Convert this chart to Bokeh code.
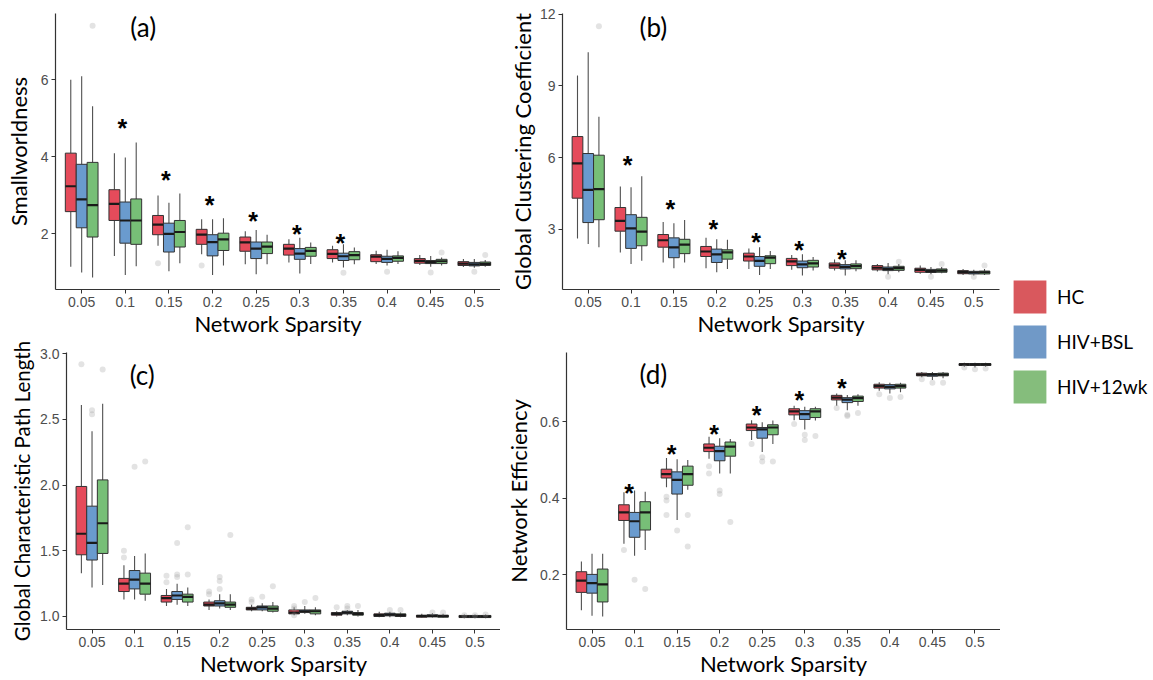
from bokeh.plotting import figure
from bokeh.layouts import row, column
from bokeh.models import (Range1d, FixedTicker, ColumnDataSource, Label,
                          Legend, LegendItem)
from bokeh.embed import file_html
from bokeh.resources import INLINE
from bokeh.core.properties import value

sparsity = ["0.05", "0.1", "0.15", "0.2", "0.25", "0.3", "0.35", "0.4", "0.45", "0.5"]
groups = ["HC", "HIV+BSL", "HIV+12wk"]

# each entry: (lower whisker, Q1, median, Q3, upper whisker) per sparsity level
# (a) Smallworldness
sw_hc = [(1.14, 2.57, 3.23, 4.09, 6.00), (1.42, 2.34, 2.77, 3.14, 4.09), (1.68, 1.97, 2.23, 2.47, 2.99),
         (1.46, 1.72, 1.97, 2.11, 2.37), (1.20, 1.54, 1.77, 1.91, 2.06), (1.25, 1.44, 1.61, 1.72, 1.85),
         (1.25, 1.35, 1.47, 1.58, 1.68), (1.21, 1.27, 1.40, 1.45, 1.55), (1.18, 1.23, 1.29, 1.35, 1.44),
         (1.13, 1.17, 1.22, 1.27, 1.34)]
sw_bsl = [(0.99, 2.15, 2.89, 3.80, 6.09), (0.92, 1.75, 2.34, 2.82, 3.98), (1.02, 1.52, 1.99, 2.27, 2.80),
          (0.92, 1.42, 1.78, 1.97, 2.37), (0.94, 1.35, 1.61, 1.78, 2.09), (0.96, 1.33, 1.48, 1.61, 1.89),
          (1.12, 1.30, 1.41, 1.49, 1.72), (1.17, 1.25, 1.34, 1.41, 1.58), (1.14, 1.22, 1.26, 1.30, 1.42),
          (1.11, 1.16, 1.20, 1.25, 1.34)]
sw_12wk = [(0.86, 1.91, 2.74, 3.85, 5.31), (1.15, 1.72, 2.34, 2.90, 4.37), (1.23, 1.65, 2.04, 2.34, 3.04),
           (1.17, 1.56, 1.85, 2.01, 2.40), (1.20, 1.48, 1.66, 1.78, 1.97), (1.21, 1.41, 1.55, 1.64, 1.77),
           (1.20, 1.32, 1.44, 1.53, 1.64), (1.21, 1.28, 1.37, 1.42, 1.54), (1.17, 1.22, 1.28, 1.33, 1.38),
           (1.14, 1.17, 1.21, 1.26, 1.31)]
sw_outliers = [("0.05", "HIV+12wk", 7.40), ("0.15", "HC", 1.23), ("0.2", "HC", 1.17),
               ("0.35", "HIV+BSL", 0.98), ("0.4", "HIV+BSL", 1.01), ("0.45", "HIV+BSL", 0.99),
               ("0.45", "HIV+12wk", 1.51), ("0.5", "HIV+BSL", 1.01), ("0.5", "HIV+12wk", 1.44)]
sw_sig = ["0.1", "0.15", "0.2", "0.25", "0.3", "0.35"]
sw_sig_y = [4.95, 3.59, 2.95, 2.54, 2.20, 1.97]

# (b) Global Clustering Coefficient
gcc_hc = [(2.61, 4.30, 5.76, 6.88, 9.43), (2.03, 2.92, 3.35, 3.91, 4.79), (1.61, 2.25, 2.54, 2.78, 3.30),
          (1.37, 1.86, 2.07, 2.28, 2.64), (1.34, 1.67, 1.86, 2.00, 2.20), (1.31, 1.48, 1.66, 1.78, 1.92),
          (1.27, 1.37, 1.49, 1.59, 1.73), (1.23, 1.30, 1.39, 1.48, 1.55), (1.14, 1.20, 1.30, 1.37, 1.48),
          (1.09, 1.14, 1.21, 1.27, 1.34)]
gcc_bsl = [(2.38, 3.28, 4.65, 6.17, 10.41), (1.55, 2.20, 3.04, 3.61, 4.76), (1.37, 1.81, 2.24, 2.64, 3.25),
           (1.20, 1.61, 1.95, 2.17, 2.58), (1.09, 1.45, 1.68, 1.86, 2.25), (1.06, 1.39, 1.53, 1.67, 1.95),
           (1.06, 1.34, 1.43, 1.52, 1.70), (1.12, 1.27, 1.34, 1.42, 1.59), (1.12, 1.19, 1.25, 1.32, 1.42),
           (1.06, 1.13, 1.19, 1.24, 1.31)]
gcc_12wk = [(2.25, 3.40, 4.68, 6.10, 7.71), (1.68, 2.31, 2.90, 3.50, 5.22), (1.61, 1.98, 2.36, 2.58, 3.39),
            (1.34, 1.75, 2.03, 2.14, 2.56), (1.34, 1.56, 1.81, 1.89, 2.09), (1.27, 1.42, 1.57, 1.70, 1.84),
            (1.24, 1.35, 1.46, 1.55, 1.70), (1.20, 1.28, 1.37, 1.45, 1.55), (1.16, 1.20, 1.27, 1.34, 1.42),
            (1.09, 1.13, 1.20, 1.25, 1.34)]
gcc_outliers = [("0.05", "HIV+12wk", 11.50), ("0.4", "HIV+BSL", 1.01), ("0.4", "HIV+12wk", 1.64),
                ("0.45", "HIV+BSL", 1.01), ("0.45", "HIV+12wk", 1.55), ("0.5", "HIV+BSL", 1.01),
                ("0.5", "HIV+12wk", 1.48)]
gcc_sig = ["0.1", "0.15", "0.2", "0.25", "0.3", "0.35"]
gcc_sig_y = [6.02, 4.18, 3.35, 2.79, 2.47, 2.07]

# (c) Global Characteristic Path Length
cpl_hc = [(1.33, 1.47, 1.63, 1.99, 2.61), (1.13, 1.19, 1.25, 1.29, 1.39), (1.08, 1.11, 1.14, 1.16, 1.21),
          (1.05, 1.08, 1.09, 1.11, 1.13), (1.04, 1.05, 1.06, 1.07, 1.09), (1.01, 1.02, 1.03, 1.05, 1.07),
          (1.00, 1.01, 1.02, 1.03, 1.04), (0.995, 1.00, 1.01, 1.02, 1.036), (0.99, 0.995, 1.003, 1.01, 1.02),
          (0.987, 0.992, 1.00, 1.008, 1.015)]
cpl_bsl = [(1.22, 1.43, 1.56, 1.84, 2.41), (1.13, 1.21, 1.28, 1.35, 1.46), (1.09, 1.13, 1.16, 1.19, 1.25),
           (1.06, 1.08, 1.10, 1.12, 1.17), (1.04, 1.05, 1.07, 1.08, 1.10), (1.02, 1.03, 1.04, 1.05, 1.08),
           (1.01, 1.02, 1.03, 1.04, 1.05), (0.995, 1.005, 1.015, 1.025, 1.036),
           (0.992, 0.997, 1.005, 1.013, 1.025), (0.987, 0.992, 1.00, 1.008, 1.015)]
cpl_12wk = [(1.24, 1.48, 1.71, 2.04, 2.62), (1.12, 1.17, 1.25, 1.33, 1.48), (1.08, 1.11, 1.15, 1.17, 1.22),
            (1.05, 1.07, 1.09, 1.11, 1.17), (1.03, 1.04, 1.06, 1.08, 1.11), (1.01, 1.02, 1.04, 1.05, 1.07),
            (1.00, 1.01, 1.02, 1.03, 1.05), (0.995, 1.00, 1.01, 1.02, 1.03), (0.99, 0.995, 1.003, 1.01, 1.02),
            (0.987, 0.992, 1.00, 1.008, 1.015)]
cpl_outliers = [("0.05", "HC", 2.92), ("0.05", "HIV+BSL", 2.57), ("0.05", "HIV+BSL", 2.54),
                ("0.05", "HIV+12wk", 2.88), ("0.1", "HC", 1.50), ("0.1", "HC", 1.45),
                ("0.1", "HIV+BSL", 2.14), ("0.1", "HIV+12wk", 2.18), ("0.15", "HC", 1.31),
                ("0.15", "HC", 1.26), ("0.15", "HIV+BSL", 1.56), ("0.15", "HIV+BSL", 1.32),
                ("0.15", "HIV+BSL", 1.30), ("0.15", "HIV+12wk", 1.68), ("0.15", "HIV+12wk", 1.32),
                ("0.2", "HC", 1.19), ("0.2", "HC", 1.17), ("0.2", "HIV+BSL", 1.30),
                ("0.2", "HIV+BSL", 1.27), ("0.2", "HIV+BSL", 1.21), ("0.2", "HIV+12wk", 1.62),
                ("0.25", "HC", 1.13), ("0.25", "HC", 1.11), ("0.25", "HIV+BSL", 1.15),
                ("0.25", "HIV+12wk", 1.23), ("0.3", "HC", 1.08), ("0.3", "HC", 1.06),
                ("0.3", "HC", 1.01), ("0.3", "HIV+BSL", 1.11), ("0.3", "HIV+12wk", 1.14),
                ("0.35", "HC", 1.07), ("0.35", "HIV+BSL", 1.08), ("0.35", "HIV+BSL", 1.06),
                ("0.35", "HIV+12wk", 1.08), ("0.4", "HIV+BSL", 1.05), ("0.4", "HIV+12wk", 1.05),
                ("0.45", "HIV+BSL", 1.03), ("0.45", "HIV+12wk", 1.03), ("0.5", "HC", 1.01),
                ("0.5", "HIV+BSL", 1.01), ("0.5", "HIV+12wk", 1.015)]

# (d) Network Efficiency
eff_hc = [(0.107, 0.154, 0.185, 0.208, 0.235), (0.281, 0.342, 0.363, 0.383, 0.416),
          (0.429, 0.453, 0.463, 0.476, 0.505), (0.503, 0.522, 0.532, 0.542, 0.561),
          (0.552, 0.577, 0.585, 0.594, 0.604), (0.604, 0.618, 0.627, 0.634, 0.642),
          (0.642, 0.657, 0.663, 0.669, 0.674), (0.681, 0.688, 0.693, 0.698, 0.703),
          (0.716, 0.720, 0.723, 0.727, 0.730), (0.744, 0.747, 0.750, 0.752, 0.754)]
eff_bsl = [(0.093, 0.152, 0.178, 0.201, 0.255), (0.250, 0.298, 0.340, 0.363, 0.420),
           (0.343, 0.411, 0.448, 0.469, 0.502), (0.465, 0.498, 0.523, 0.536, 0.557),
           (0.521, 0.557, 0.580, 0.585, 0.599), (0.580, 0.606, 0.620, 0.629, 0.639),
           (0.630, 0.650, 0.658, 0.663, 0.670), (0.674, 0.686, 0.691, 0.697, 0.702),
           (0.709, 0.719, 0.723, 0.726, 0.730), (0.742, 0.747, 0.750, 0.752, 0.754)]
eff_12wk = [(0.091, 0.129, 0.175, 0.215, 0.255), (0.265, 0.317, 0.363, 0.391, 0.417),
            (0.422, 0.434, 0.463, 0.484, 0.500), (0.465, 0.510, 0.535, 0.547, 0.555),
            (0.542, 0.566, 0.585, 0.592, 0.603), (0.603, 0.611, 0.627, 0.634, 0.639),
            (0.642, 0.653, 0.662, 0.667, 0.672), (0.677, 0.688, 0.693, 0.698, 0.702),
            (0.714, 0.720, 0.723, 0.727, 0.730), (0.744, 0.747, 0.750, 0.752, 0.754)]
eff_outliers = [("0.1", "HC", 0.265), ("0.1", "HIV+BSL", 0.187), ("0.1", "HIV+12wk", 0.163),
                ("0.15", "HC", 0.404), ("0.15", "HC", 0.394), ("0.15", "HC", 0.356),
                ("0.15", "HIV+BSL", 0.316), ("0.15", "HIV+12wk", 0.356), ("0.15", "HIV+12wk", 0.274),
                ("0.2", "HC", 0.484), ("0.2", "HC", 0.465), ("0.2", "HIV+BSL", 0.420),
                ("0.2", "HIV+BSL", 0.411), ("0.2", "HIV+12wk", 0.338), ("0.25", "HC", 0.542),
                ("0.25", "HIV+BSL", 0.507), ("0.25", "HIV+BSL", 0.496), ("0.25", "HIV+12wk", 0.496),
                ("0.3", "HC", 0.594), ("0.3", "HIV+BSL", 0.566), ("0.3", "HIV+BSL", 0.552),
                ("0.3", "HIV+12wk", 0.563), ("0.35", "HC", 0.636), ("0.35", "HIV+BSL", 0.618),
                ("0.35", "HIV+BSL", 0.615), ("0.35", "HIV+12wk", 0.623), ("0.4", "HC", 0.672),
                ("0.4", "HIV+BSL", 0.662), ("0.4", "HIV+12wk", 0.665), ("0.45", "HC", 0.711),
                ("0.45", "HIV+BSL", 0.702), ("0.45", "HIV+12wk", 0.702), ("0.5", "HC", 0.742),
                ("0.5", "HIV+BSL", 0.737), ("0.5", "HIV+12wk", 0.739)]
eff_sig = ["0.1", "0.15", "0.2", "0.25", "0.3", "0.35"]
eff_sig_y = [0.435, 0.537, 0.589, 0.639, 0.679, 0.709]

box_colors = ["#E54B5B", "#6A9BCE", "#77BF77"]
legend_colors = ["#D9585D", "#7099C7", "#85BD7C"]

TITLE_FONT = "Lato"
TICK_FONT = "Liberation Sans"
DODGE = 0.25


def xpos(cat, grp=None):
    base = sparsity.index(cat) + 1
    if grp is None:
        return base
    return base + (groups.index(grp) - 1) * DODGE


def panel(stats, outliers, sig, sig_y, sig_dx, cfg):
    p = figure(width=cfg["w"], height=cfg["h"], output_backend="svg", toolbar_location=None,
               x_range=Range1d(0.4, 10.6), y_range=Range1d(*cfg["yr"]),
               min_border_left=cfg["ml"], min_border_right=cfg["mr"],
               min_border_top=cfg["mt"], min_border_bottom=cfg["mb"],
               background_fill_color="white", border_fill_color="white")
    p.outline_line_color = None
    p.xgrid.visible = False
    p.ygrid.visible = False

    for g, name in enumerate(groups):
        st = stats[g]
        xs = [xpos(c, name) for c in sparsity]
        lo, q1, med, q3, hi = (list(v) for v in zip(*st))
        src = ColumnDataSource(dict(x=xs, lo=lo, q1=q1, med=med, q3=q3, hi=hi,
                                    x0=[x - DODGE / 2 for x in xs], x1=[x + DODGE / 2 for x in xs]))
        p.segment("x", "q3", "x", "hi", source=src, line_color="#505050", line_width=1.1)
        p.segment("x", "lo", "x", "q1", source=src, line_color="#505050", line_width=1.1)
        p.vbar(x="x", width=DODGE, bottom="q1", top="q3", source=src,
               fill_color=box_colors[g], line_color="#333333", line_width=1)
        p.segment("x0", "med", "x1", "med", source=src, line_color="#1a1a1a", line_width=2.2)

    osrc = ColumnDataSource(dict(x=[xpos(c, g) for c, g, v in outliers],
                                 y=[v for c, g, v in outliers]))
    p.scatter("x", "y", source=osrc, size=6, fill_color="#999999", fill_alpha=0.28, line_color=None)

    if sig:
        ssrc = ColumnDataSource(dict(x=[xpos(c) + sig_dx for c in sig], y=sig_y,
                                     t=["*"] * len(sig)))
        p.text("x", "y", text="t", source=ssrc, text_align="center", text_baseline="middle",
               text_font=value("Liberation Sans"), text_font_size="25px", text_font_style="bold",
               text_color="black", y_offset=8)

    p.add_layout(Label(x=cfg["lab"][0], y=cfg["lab"][1], text=cfg["lab"][2], text_align="center",
                       text_baseline="middle", text_font=TITLE_FONT, text_font_size="26px",
                       text_color="black"))

    xa = p.xaxis[0]
    xa.ticker = FixedTicker(ticks=list(range(1, len(sparsity) + 1)))
    xa.major_label_overrides = {i + 1: s for i, s in enumerate(sparsity)}
    xa.axis_label = "Network Sparsity"
    xa.axis_label_standoff = cfg["xlso"]
    ya = p.yaxis[0]
    ya.ticker = FixedTicker(ticks=cfg["yt"])
    ya.major_label_overrides = {t: l for t, l in zip(cfg["yt"], cfg["ytl"])}
    ya.axis_label = cfg["yl"]
    ya.axis_label_standoff = cfg["ylso"]
    for ax in (xa, ya):
        ax.axis_line_color = "#333333"
        ax.axis_line_width = 1.2
        ax.major_tick_line_color = "#333333"
        ax.major_tick_out = 4
        ax.major_tick_in = 0
        ax.minor_tick_line_color = None
        ax.major_label_standoff = 3
        ax.major_label_text_font = TICK_FONT
        ax.major_label_text_font_size = "14px"
        ax.major_label_text_color = "#4D4D4D"
        ax.axis_label_text_font = TITLE_FONT
        ax.axis_label_text_font_size = "22px"
        ax.axis_label_text_font_style = "normal"
        ax.axis_label_text_color = "black"
    ya.axis_label_text_font_size = cfg["ylfs"]
    return p


pa = panel([sw_hc, sw_bsl, sw_12wk], sw_outliers, sw_sig, sw_sig_y, -0.07,
           dict(w=500, h=339, yr=(0.546, 7.72), ml=55, mr=0, mt=13, mb=48, xlso=0,
                yt=[2, 4, 6], ytl=["2", "4", "6"], yl="Smallworldness", ylso=6, ylfs="22px",
                lab=(2.41, 7.37, "(a)")))
pb = panel([gcc_hc, gcc_bsl, gcc_12wk], gcc_outliers, gcc_sig, gcc_sig_y, -0.08,
           dict(w=500, h=339, yr=(0.479, 12.03), ml=62, mr=1, mt=13, mb=48, xlso=0,
                yt=[3, 6, 9, 12], ytl=["3", "6", "9", "12"], yl="Global Clustering Coefficient",
                ylso=1, ylfs="22px", lab=(2.52, 11.46, "(b)")))
pc = panel([cpl_hc, cpl_bsl, cpl_12wk], cpl_outliers, [], [], 0,
           dict(w=500, h=341, yr=(0.901, 3.01), ml=66, mr=0, mt=13, mb=51, xlso=0,
                yt=[1.0, 1.5, 2.0, 2.5, 3.0], ytl=["1.0", "1.5", "2.0", "2.5", "3.0"],
                yl="Global Characteristic Path Length", ylso=3, ylfs="20.5px",
                lab=(2.18, 2.84, "(c)")))
pd = panel([eff_hc, eff_bsl, eff_12wk], eff_outliers, eff_sig, eff_sig_y, -0.13,
           dict(w=500, h=341, yr=(0.057, 0.781), ml=66, mr=0, mt=13, mb=51, xlso=0,
                yt=[0.2, 0.4, 0.6], ytl=["0.2", "0.4", "0.6"], yl="Network Efficiency", ylso=5,
                ylfs="22px", lab=(2.44, 0.726, "(d)")))

# legend panel
leg = figure(width=153, height=680, output_backend="svg", toolbar_location=None,
             x_axis_location=None, y_axis_location=None, min_border=0,
             x_range=Range1d(0, 1), y_range=Range1d(0, 1))
leg.outline_line_color = None
leg.xgrid.visible = False
leg.ygrid.visible = False
items = []
for g, name in enumerate(groups):
    r = leg.vbar(x=[5], top=[-5], bottom=[-6], width=0.1, fill_color=legend_colors[g], line_color=None)
    items.append(LegendItem(label=name, renderers=[r]))
legend = Legend(items=items, location=(9, 273), glyph_width=41, glyph_height=41, spacing=4,
                padding=0, margin=0, border_line_color=None, background_fill_alpha=0,
                label_text_font=TITLE_FONT, label_text_font_size="19px", label_standoff=7,
                label_text_color="black")
leg.add_layout(legend)

layout = row(column(row(pa, pb), row(pc, pd)), leg)

with open("out.html", "w") as f:
    f.write(file_html(layout, INLINE))
